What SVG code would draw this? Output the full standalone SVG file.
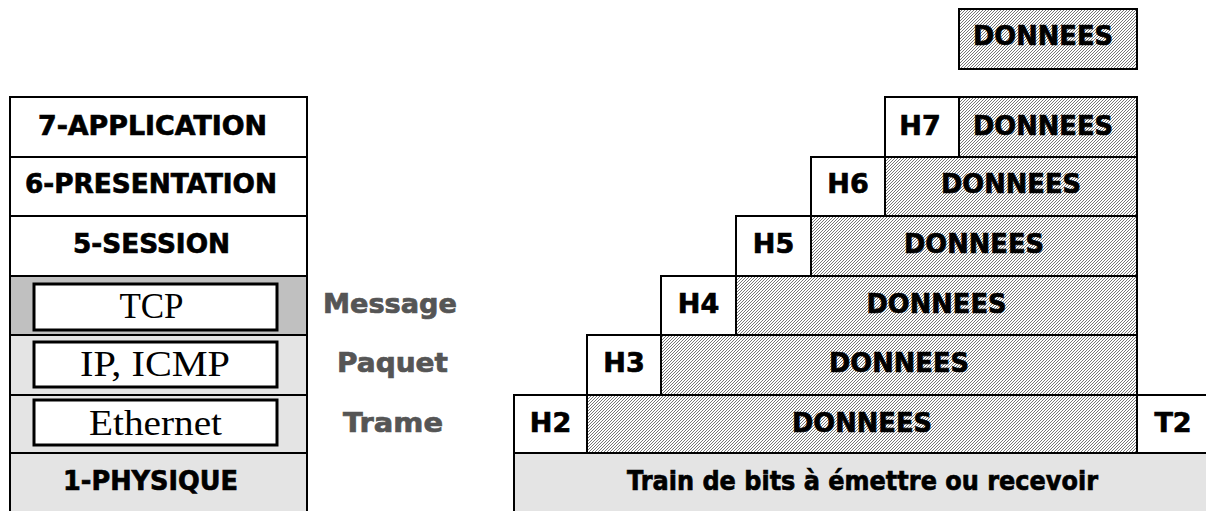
<svg xmlns="http://www.w3.org/2000/svg" width="1206" height="511" viewBox="0 0 1206 511">
<defs>
<pattern id="hatch" patternUnits="userSpaceOnUse" width="3" height="3">
<rect width="3" height="3" fill="#ffffff"/>
<path d="M0,3 L3,0 M-1,1 L1,-1 M2,4 L4,2" stroke="#4a4a4a" stroke-width="0.75"/>
</pattern>
</defs>
<style>
.box{stroke:#000;stroke-width:2}
.w{fill:#fff}
.h{fill:url(#hatch)}
.lg{fill:#e4e4e4}
.dg{fill:#c0c0c0}
.inner{fill:#fff;stroke:#000;stroke-width:3}
.t{font-family:"DejaVu Sans","Liberation Sans",sans-serif;font-weight:bold;font-size:27px;fill:#000;stroke:#000;stroke-width:0.7;text-anchor:middle}
.g{fill:#555;stroke:#555}
.s{font-family:"Liberation Serif","Times New Roman",serif;font-size:35px;fill:#000;text-anchor:middle}
</style>
<rect width="1206" height="511" fill="#fff"/>
<g id="layer7"><rect class="box w" x="10" y="97" width="297" height="60"/><text class="t" x="152.5" y="135" textLength="229" lengthAdjust="spacingAndGlyphs">7-APPLICATION</text></g>
<g id="layer6"><rect class="box w" x="10" y="157" width="297" height="59"/><text class="t" x="151" y="193" textLength="252" lengthAdjust="spacingAndGlyphs">6-PRESENTATION</text></g>
<g id="layer5"><rect class="box w" x="10" y="216" width="297" height="60"/><text class="t" x="151.5" y="253" textLength="157" lengthAdjust="spacingAndGlyphs">5-SESSION</text></g>
<g id="layer4"><rect class="box dg" x="10" y="276" width="297" height="59"/><rect class="inner" x="34" y="284" width="243" height="46"/><text class="s" x="151.5" y="318">TCP</text></g>
<g id="layer3"><rect class="box lg" x="10" y="335" width="297" height="60"/><rect class="inner" x="34" y="342" width="243" height="45"/><text class="s" x="155" y="376" textLength="150" lengthAdjust="spacingAndGlyphs">IP, ICMP</text></g>
<g id="layer2"><rect class="box lg" x="10" y="395" width="297" height="58"/><rect class="inner" x="34" y="400" width="243" height="45"/><text class="s" x="155.5" y="435" textLength="133" lengthAdjust="spacingAndGlyphs">Ethernet</text></g>
<g id="layer1"><rect class="box lg" x="10" y="453" width="297" height="62"/><text class="t" x="150.5" y="490" textLength="175" lengthAdjust="spacingAndGlyphs">1-PHYSIQUE</text></g>
<g id="label-message"><text class="t g" x="390" y="313" textLength="134" lengthAdjust="spacingAndGlyphs">Message</text></g>
<g id="label-paquet"><text class="t g" x="392.5" y="372" textLength="111" lengthAdjust="spacingAndGlyphs">Paquet</text></g>
<g id="label-trame"><text class="t g" x="393" y="432" textLength="100" lengthAdjust="spacingAndGlyphs">Trame</text></g>
<g id="data"><rect class="box h" x="959" y="9" width="178" height="60"/><text class="t" x="1043" y="45" textLength="140" lengthAdjust="spacingAndGlyphs">DONNEES</text></g>
<g id="pdu7"><rect class="box w" x="885" y="97" width="74" height="60"/><rect class="box h" x="959" y="97" width="178" height="60"/><text class="t" x="920" y="135">H7</text><text class="t" x="1043" y="135" textLength="140" lengthAdjust="spacingAndGlyphs">DONNEES</text></g>
<g id="pdu6"><rect class="box w" x="811" y="157" width="74" height="59"/><rect class="box h" x="885" y="157" width="252" height="59"/><text class="t" x="848" y="193">H6</text><text class="t" x="1011" y="193" textLength="140" lengthAdjust="spacingAndGlyphs">DONNEES</text></g>
<g id="pdu5"><rect class="box w" x="736" y="216" width="75" height="60"/><rect class="box h" x="811" y="216" width="326" height="60"/><text class="t" x="773.5" y="253">H5</text><text class="t" x="974" y="253" textLength="140" lengthAdjust="spacingAndGlyphs">DONNEES</text></g>
<g id="pdu4"><rect class="box w" x="661" y="276" width="75" height="59"/><rect class="box h" x="736" y="276" width="401" height="59"/><text class="t" x="698.5" y="313">H4</text><text class="t" x="936.5" y="313" textLength="140" lengthAdjust="spacingAndGlyphs">DONNEES</text></g>
<g id="pdu3"><rect class="box w" x="587" y="335" width="74" height="60"/><rect class="box h" x="661" y="335" width="476" height="60"/><text class="t" x="624" y="372">H3</text><text class="t" x="899" y="372" textLength="140" lengthAdjust="spacingAndGlyphs">DONNEES</text></g>
<g id="pdu2"><rect class="box w" x="514" y="395" width="73" height="58"/><rect class="box h" x="587" y="395" width="550" height="58"/><rect class="box w" x="1137" y="395" width="75" height="58"/><text class="t" x="550.5" y="432">H2</text><text class="t" x="862" y="432" textLength="140" lengthAdjust="spacingAndGlyphs">DONNEES</text><text class="t" x="1173" y="432">T2</text></g>
<g id="bits"><rect class="box lg" x="514" y="453" width="698" height="62"/><text class="t" x="862.5" y="490" textLength="471" lengthAdjust="spacingAndGlyphs">Train de bits à émettre ou recevoir</text></g>
<g id="connectors"></g>
</svg>
